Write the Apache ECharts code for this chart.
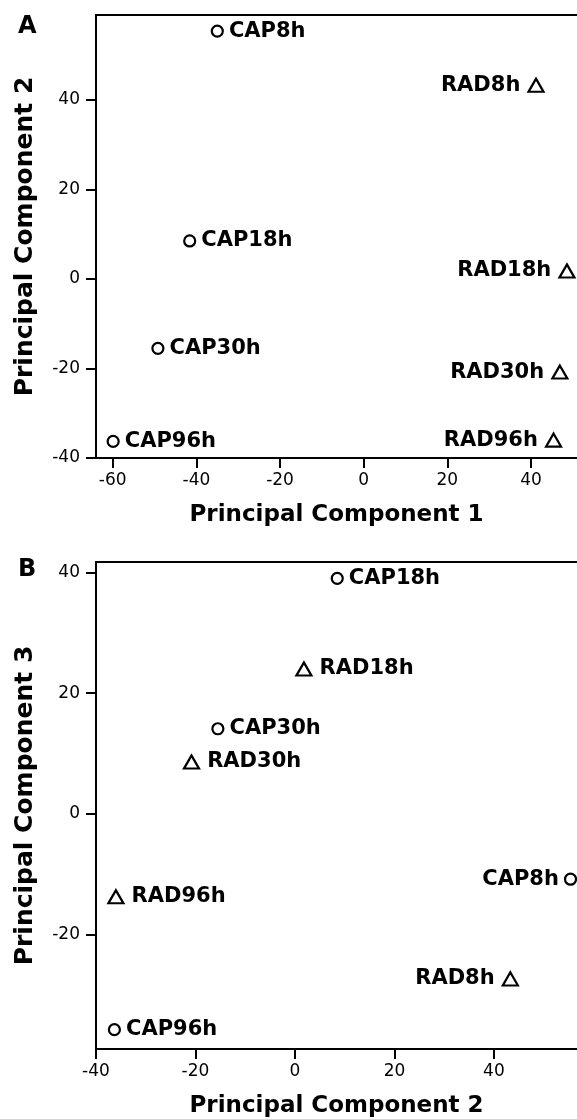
<!DOCTYPE html>
<html>
<head>
<meta charset="utf-8">
<script src="https://cdn.jsdelivr.net/npm/echarts@6/dist/echarts.min.js"></script>
<style>
  html, body { margin: 0; padding: 0; background: #fff; }
  #main { width: 577px; height: 1119px; }
</style>
</head>
<body>
<div id="main"></div>
<script>
// sample names + principal component scores
var capNames = ['CAP8h', 'CAP18h', 'CAP30h', 'CAP96h'];
var capPC1 = [-35.0, -41.6, -49.2, -59.9];
var capPC2 = [55.4, 8.5, -15.5, -36.3];
var capPC3 = [-10.8, 39.0, 14.1, -35.7];

var radNames = ['RAD8h', 'RAD18h', 'RAD30h', 'RAD96h'];
var radPC1 = [41.2, 48.6, 46.9, 45.4];
var radPC2 = [43.3, 1.8, -20.8, -36.0];
var radPC3 = [-27.3, 24.0, 8.6, -13.7];

// tick labels
var ticksA_x = [-60, -40, -20, 0, 20, 40];
var ticksA_y = [-40, -20, 0, 20, 40];
var ticksB_x = [-40, -20, 0, 20, 40];
var ticksB_y = [-20, 0, 20, 40];

var FONT = 'DejaVu Sans';

function points(xs, ys, names, sides) {
    return names.map(function (n, i) {
        return { name: n, value: [xs[i], ys[i]], label: { position: sides[i] } };
    });
}

function bottomAxis(grid, min, max, ticks, name) {
    return {
        type: 'value', gridIndex: grid, min: min, max: max, position: 'bottom',
        name: name, nameLocation: 'middle', nameGap: 46,
        nameTextStyle: { fontFamily: FONT, fontWeight: 'bold', fontSize: 23, color: '#000' },
        axisLine: { onZero: false, lineStyle: { color: '#000', width: 2 } },
        axisTick: { length: 10, lineStyle: { color: '#000', width: 2 }, customValues: ticks },
        axisLabel: { margin: 14, fontFamily: FONT, fontSize: 17, color: '#000', customValues: ticks },
        splitLine: { show: false }
    };
}
function topLine(grid, min, max) {
    return {
        type: 'value', gridIndex: grid, min: min, max: max, position: 'top',
        axisLine: { onZero: false, lineStyle: { color: '#000', width: 2 } },
        axisTick: { show: false }, axisLabel: { show: false }, splitLine: { show: false }
    };
}
function leftAxis(grid, min, max, ticks, name) {
    return {
        type: 'value', gridIndex: grid, min: min, max: max, position: 'left',
        name: name, nameLocation: 'middle', nameGap: 58,
        nameTextStyle: { fontFamily: FONT, fontWeight: 'bold', fontSize: 25, color: '#000' },
        axisLine: { onZero: false, lineStyle: { color: '#000', width: 2 } },
        axisTick: { length: 10, lineStyle: { color: '#000', width: 2 }, customValues: ticks },
        axisLabel: { margin: 16, fontFamily: FONT, fontSize: 17, color: '#000', customValues: ticks },
        splitLine: { show: false }
    };
}

var labelStyle = {
    show: true, formatter: '{b}', color: '#000',
    fontFamily: FONT, fontWeight: 'bold', fontSize: 21
};
function capSeries(x, y, data) {
    return {
        type: 'scatter', xAxisIndex: x, yAxisIndex: y, data: data,
        symbol: 'circle', symbolSize: 11,
        itemStyle: { color: '#fff', borderColor: '#000', borderWidth: 2.2, opacity: 1 },
        label: Object.assign({ distance: 5 }, labelStyle),
        emphasis: { disabled: true }, z: 3
    };
}
function radSeries(x, y, data) {
    return {
        type: 'scatter', xAxisIndex: x, yAxisIndex: y, data: data,
        symbol: 'triangle', symbolSize: [15, 13],
        itemStyle: { color: '#fff', borderColor: '#000', borderWidth: 2.2, opacity: 1 },
        label: Object.assign({ distance: 7 }, labelStyle),
        emphasis: { disabled: true }, z: 3
    };
}

var chart = echarts.init(document.getElementById('main'), null, { renderer: 'canvas' });

var option = {
    animation: false,
    backgroundColor: '#fff',
    title: [
        { text: 'A', left: 13, top: 10, textStyle: { fontFamily: FONT, fontWeight: 'bold', fontSize: 24, color: '#000' } },
        { text: 'B', left: 13, top: 553, textStyle: { fontFamily: FONT, fontWeight: 'bold', fontSize: 24, color: '#000' } }
    ],
    grid: [
        { left: 96, top: 15, width: 481, height: 443 },
        { left: 96, top: 562, width: 481, height: 487 }
    ],
    xAxis: [
        bottomAxis(0, -64, 51, ticksA_x, 'Principal Component 1'),
        topLine(0, -64, 51),
        bottomAxis(1, -40, 56.7, ticksB_x, 'Principal Component 2'),
        topLine(1, -40, 56.7)
    ],
    yAxis: [
        leftAxis(0, -40, 59, ticksA_y, 'Principal Component 2'),
        leftAxis(1, -38.9, 41.7, ticksB_y, 'Principal Component 3')
    ],
    series: [
        capSeries(0, 0, points(capPC1, capPC2, capNames, ['right', 'right', 'right', 'right'])),
        radSeries(0, 0, points(radPC1, radPC2, radNames, ['left', 'left', 'left', 'left'])),
        capSeries(2, 1, points(capPC2, capPC3, capNames, ['left', 'right', 'right', 'right'])),
        radSeries(2, 1, points(radPC2, radPC3, radNames, ['left', 'right', 'right', 'right']))
    ]
};

chart.setOption(option);
</script>
</body>
</html>
